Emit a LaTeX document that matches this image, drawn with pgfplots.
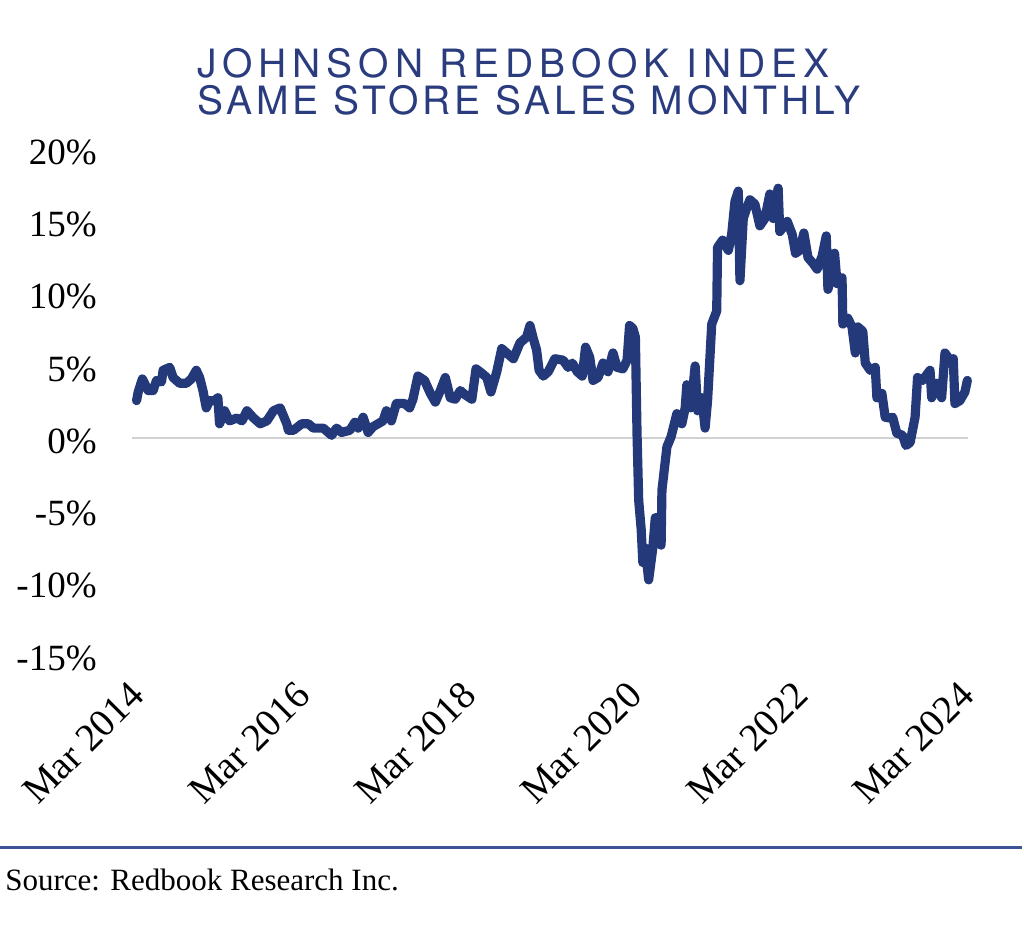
\documentclass[border=0pt]{standalone}
\usepackage{fontspec}
\setmainfont{Liberation Serif}
\newfontfamily\titlefont{TeX Gyre Heros}
\usepackage{pgfplots}
\pgfplotsset{compat=1.18}
\definecolor{navy}{RGB}{36,57,122}
\definecolor{titlenavy}{RGB}{42,60,126}
\definecolor{rulenavy}{RGB}{62,82,150}
\begin{document}
\begin{tikzpicture}
\path[use as bounding box] (0,0) rectangle (512pt,471pt);
\begin{axis}[
  at={(66.2pt,143.5pt)}, anchor=south west,
  scale only axis, width=417.9pt, height=252.9pt,
  xmin=2014.10, xmax=2024.17, ymin=-15, ymax=20,
  axis line style={draw=none}, tick style={draw=none},
  clip=false,
  xtick={2014.167,2016.167,2018.167,2020.167,2022.167,2024.167},
  xticklabels={Mar 2014,Mar 2016,Mar 2018,Mar 2020,Mar 2022,Mar 2024},
  ytick={-15,-10,-5,0,5,10,15,20},
  yticklabels={-15\%,-10\%,-5\%,0\%,5\%,10\%,15\%,20\%},
  ticklabel style={font=\fontsize{18.5pt}{20pt}\selectfont, text=black},
  yticklabel style={anchor=east, inner sep=0pt, xshift=-17.7pt, yshift=-1.5pt},
  xticklabel style={font=\fontsize{19.5pt}{21pt}\selectfont, xshift=-5pt, yshift=-12pt, rotate=45, anchor=north east, inner sep=0pt},
]
\addplot[color=black!18, line width=1pt] coordinates {(2014.10,0) (2024.17,0)};
\addplot[color=navy, line width=4.6pt, line join=round, line cap=round] coordinates {
(2014.15,2.6) (2014.17,3.2) (2014.22,4.1) (2014.29,3.3) (2014.35,3.3) (2014.39,4.0)
(2014.45,3.9) (2014.47,4.7) (2014.55,4.9) (2014.59,4.2) (2014.67,3.8) (2014.75,3.8)
(2014.81,4.1) (2014.87,4.7) (2014.91,4.2) (2014.95,3.3) (2014.99,2.1) (2015.03,2.6)
(2015.09,2.6) (2015.13,2.8) (2015.15,1.0) (2015.21,1.9) (2015.27,1.2) (2015.36,1.4)
(2015.42,1.2) (2015.48,1.9) (2015.56,1.4) (2015.64,1.0) (2015.72,1.2) (2015.80,1.9)
(2015.88,2.1) (2015.96,1.0) (2015.98,0.55) (2016.04,0.55) (2016.14,1.0) (2016.22,1.0)
(2016.28,0.7) (2016.40,0.7) (2016.50,0.2) (2016.56,0.7) (2016.62,0.4) (2016.72,0.55)
(2016.78,1.1) (2016.82,0.7) (2016.88,1.45) (2016.94,0.4) (2017.00,0.8) (2017.12,1.2)
(2017.16,1.9) (2017.22,1.2) (2017.28,2.4) (2017.38,2.4) (2017.44,2.1) (2017.48,2.7)
(2017.54,4.3) (2017.62,4.0) (2017.69,3.1) (2017.75,2.5) (2017.81,3.3) (2017.87,4.2)
(2017.93,2.8) (2017.99,2.7) (2018.05,3.3) (2018.11,3.0) (2018.19,2.7) (2018.24,4.8)
(2018.31,4.5) (2018.37,4.2) (2018.42,3.2) (2018.49,4.6) (2018.55,6.2) (2018.61,5.9)
(2018.69,5.5) (2018.77,6.6) (2018.85,7.0) (2018.89,7.8) (2018.93,6.9) (2018.97,6.1)
(2019.00,4.7) (2019.05,4.3) (2019.11,4.6) (2019.19,5.5) (2019.29,5.4) (2019.35,4.9)
(2019.40,5.2) (2019.46,4.6) (2019.52,4.3) (2019.56,6.3) (2019.61,5.6) (2019.65,4.0)
(2019.71,4.2) (2019.77,5.2) (2019.83,4.6) (2019.89,5.9) (2019.94,4.9) (2020.01,4.8)
(2020.06,5.4) (2020.09,7.8) (2020.13,7.6) (2020.16,7.0) (2020.18,0.3) (2020.20,-4.3)
(2020.23,-6.3) (2020.25,-8.6) (2020.28,-7.6) (2020.32,-9.8) (2020.37,-7.6) (2020.40,-5.5)
(2020.44,-5.5) (2020.47,-7.4) (2020.48,-3.6) (2020.54,-0.6) (2020.59,0.1) (2020.66,1.7)
(2020.72,1.0) (2020.76,2.1) (2020.78,3.7) (2020.83,2.1) (2020.88,5.0) (2020.91,1.9)
(2020.96,2.8) (2021.00,0.7) (2021.03,2.6) (2021.08,7.9) (2021.14,8.8) (2021.15,13.2)
(2021.21,13.7) (2021.28,13.0) (2021.32,14.1) (2021.36,16.4) (2021.40,17.1) (2021.42,10.9)
(2021.46,15.2) (2021.50,15.9) (2021.54,16.5) (2021.60,16.2) (2021.66,14.7) (2021.72,15.2)
(2021.78,16.9) (2021.82,15.2) (2021.88,17.3) (2021.90,14.3) (2021.99,15.0) (2022.05,14.1)
(2022.09,12.8) (2022.14,13.0) (2022.19,14.2) (2022.24,12.5) (2022.30,12.1) (2022.35,11.7)
(2022.41,12.6) (2022.46,14.0) (2022.48,10.3) (2022.53,11.6) (2022.56,12.8) (2022.59,10.7)
(2022.65,11.1) (2022.66,7.9) (2022.72,8.3) (2022.77,7.7) (2022.81,5.9) (2022.84,7.7)
(2022.90,7.4) (2022.93,5.2) (2022.99,4.7) (2023.05,4.9) (2023.07,2.8) (2023.13,3.1)
(2023.17,1.45) (2023.23,1.4) (2023.26,1.45) (2023.31,0.35) (2023.38,0.2) (2023.42,-0.5)
(2023.47,-0.3) (2023.53,1.45) (2023.56,4.2) (2023.62,4.0) (2023.71,4.7) (2023.73,2.8)
(2023.79,3.8) (2023.85,2.8) (2023.89,5.9) (2023.95,5.4) (2023.99,5.5) (2024.01,2.4)
(2024.07,2.6) (2024.13,3.2) (2024.16,4.0)
};
\end{axis}
\node[anchor=base west, inner sep=0pt, text=titlenavy] at (98.5pt,432pt)
  {\titlefont\addfontfeatures{LetterSpace=15}\fontsize{19.5pt}{22pt}\selectfont JOHNSON REDBOOK INDEX};
\node[anchor=base west, inner sep=0pt, text=titlenavy] at (98.5pt,413.5pt)
  {\titlefont\addfontfeatures{LetterSpace=10}\fontsize{19.5pt}{22pt}\selectfont SAME STORE SALES MONTHLY};
\draw[rulenavy, line width=1.5pt] (0pt,47pt) -- (511pt,47pt);
\node[anchor=base west, inner sep=0pt] at (2.5pt,25.5pt)
  {\fontsize{15.5pt}{18pt}\selectfont Source: Redbook Research Inc.};
\end{tikzpicture}
\end{document}
